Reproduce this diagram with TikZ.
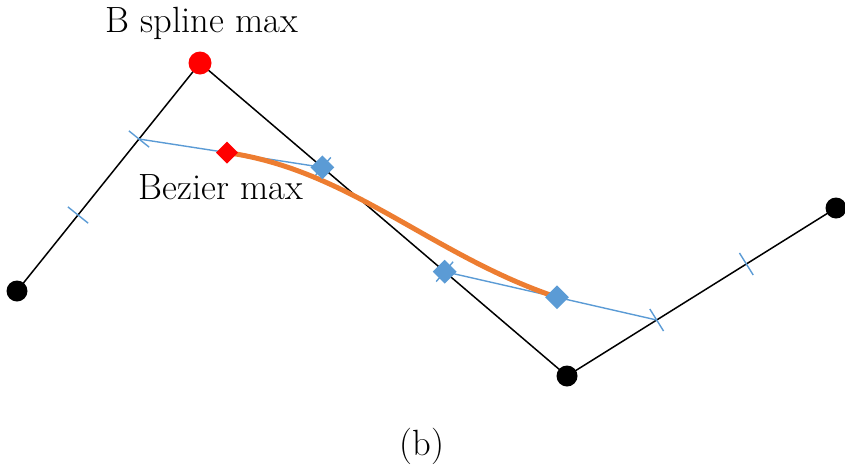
\documentclass[tikz,border=0pt]{standalone}
\usetikzlibrary{calc,shapes.geometric}
\definecolor{xlblue}{RGB}{91,155,213}
\definecolor{xlorange}{RGB}{237,125,49}
\tikzset{
  ctrl/.style={circle,fill=black,inner sep=0pt,minimum size=21pt},
  maxpt/.style={circle,fill=red,inner sep=0pt,minimum size=23pt},
  bzpt/.style={diamond,fill=xlblue,inner sep=0pt,minimum size=24pt},
  bzmax/.style={diamond,fill=red,inner sep=0pt,minimum size=22pt},
  poly/.style={draw=black,line width=1.5pt},
  hull/.style={draw=xlblue,line width=1.4pt},
  tickmark/.style={draw=xlblue,line width=1.4pt},
  curve/.style={draw=xlorange,line width=5pt},
  lbl/.style={font=\fontsize{36.5}{42}\selectfont,inner sep=0pt}
}
\begin{document}
\begin{tikzpicture}[x=1pt,y=-1pt]
\useasboundingbox (0,0) rectangle (845,469);
\coordinate (P0) at (17,291);
\coordinate (P1) at (200,63);
\coordinate (P2) at (567,376);
\coordinate (P3) at (836,208);
\coordinate (a1) at ($(P0)!1/3!(P1)$);
\coordinate (a2) at ($(P0)!2/3!(P1)$);
\coordinate (b1) at ($(P1)!1/3!(P2)$);
\coordinate (b2) at ($(P1)!2/3!(P2)$);
\coordinate (c1) at ($(P2)!1/3!(P3)$);
\coordinate (c2) at ($(P2)!2/3!(P3)$);
\coordinate (m1) at ($(a2)!0.48!(b1)$);
\coordinate (m2) at ($(b2)!0.53!(c1)$);
\coordinate (k1) at (350,170);
\coordinate (k2) at (433,256);
% control polygon
\draw[poly] (P0) -- (P1) -- (P2) -- (P3);
% blue hull lines
\draw[hull] (a2) -- (b1);
\draw[hull] (b2) -- (c1);
% ticks
\draw[tickmark] ($(a1)!13pt!90:(P1)$) -- ($(a1)!13pt!-90:(P1)$);
\draw[tickmark] ($(a2)!13pt!90:(P1)$) -- ($(a2)!13pt!-90:(P1)$);
\draw[tickmark] ($(b1)!13pt!90:(P2)$) -- ($(b1)!13pt!-90:(P2)$);
\draw[tickmark] ($(b2)!13pt!90:(P2)$) -- ($(b2)!13pt!-90:(P2)$);
\draw[tickmark] ($(c1)!13pt!90:(P3)$) -- ($(c1)!13pt!-90:(P3)$);
\draw[tickmark] ($(c2)!13pt!90:(P3)$) -- ($(c2)!13pt!-90:(P3)$);
% curve
\draw[curve] (m1) .. controls (k1) and (k2) .. (m2);
% markers
\node[ctrl] (n0) at (P0) {};
\node[maxpt] (n1) at (P1) {};
\node[ctrl] (n2) at (P2) {};
\node[ctrl] (n3) at (P3) {};
\node[bzpt] (d1) at (b1) {};
\node[bzpt] (d2) at (b2) {};
\node[bzpt] (d3) at (m2) {};
\node[bzmax] (d0) at (m1) {};
% labels
\node[lbl] (t1) at (202,23) {B spline max};
\node[lbl] (t2) at (221,187) {Bezier max};
\node[lbl] (t3) at (422,446) {(b)};
\end{tikzpicture}
\end{document}
